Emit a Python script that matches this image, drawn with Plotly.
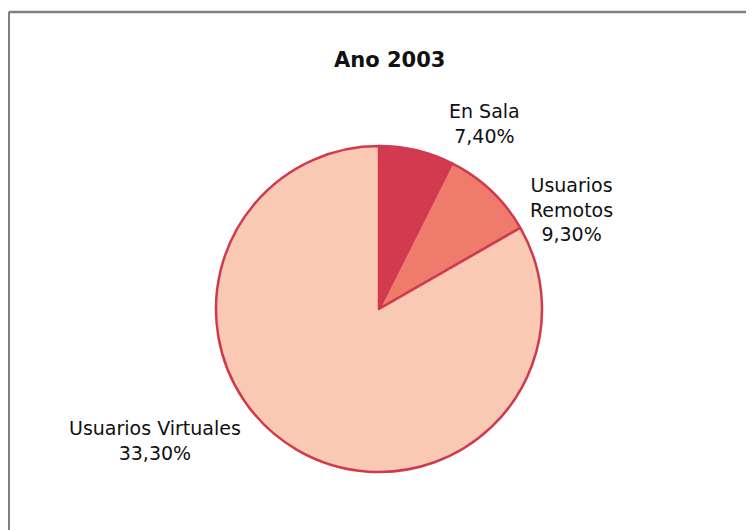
import plotly.graph_objects as go

categories = ["En Sala", "Usuarios Remotos", "Usuarios Virtuales"]
# slice shares as drawn in the picture (percent of the full circle)
slice_shares = [7.40, 9.30, 83.30]
# values printed on the labels
value_labels = ["7,40%", "9,30%", "33,30%"]
label_names = ["En Sala", "Usuarios<br>Remotos", "Usuarios Virtuales"]
colors = ["#D3394F", "#EE7B6B", "#F9C9B3"]

W, H = 754, 530
OFF = 8  # page body margin offset
cx, cy, r = 379 - OFF, 309 - OFF, 163

fig = go.Figure(go.Pie(
    labels=categories, values=slice_shares, sort=False, direction="clockwise", rotation=0,
    marker=dict(colors=colors, line=dict(color="#D03A4E", width=2.5)),
    textinfo="none", hoverinfo="label", showlegend=False,
    domain=dict(x=[(cx - r) / W, (cx + r) / W], y=[(H - cy - r) / H, (H - cy + r) / H]),
))

label_pos = [(485, 123), (571, 209), (155, 440)]
annotations = []
for name, val, (x, y) in zip(label_names, value_labels, label_pos):
    annotations.append(dict(x=(x - OFF) / W, y=1 - (y - OFF) / H, xref="paper", yref="paper",
                            text=f"{name}<br>{val}",
                            showarrow=False, xanchor="center", yanchor="middle", align="center",
                            font=dict(family="DejaVu Sans", size=19, color="#111111")))
annotations.append(dict(x=(390 - OFF) / W, y=1 - (60 - OFF) / H, xref="paper", yref="paper",
                        text="<b>Ano 2003</b>",
                        showarrow=False, xanchor="center", yanchor="middle",
                        font=dict(family="DejaVu Sans", size=21, color="#111111")))

fig.update_layout(
    width=W, height=H, margin=dict(l=0, r=0, t=0, b=0),
    paper_bgcolor="white", plot_bgcolor="white",
    annotations=annotations,
    shapes=[
        dict(type="line", xref="paper", yref="paper", x0=(8 - OFF) / W + 0.001, x1=1.01,
             y0=1 - (12 - OFF) / H, y1=1 - (12 - OFF) / H,
             line=dict(color="#808080", width=2.5)),
        dict(type="line", xref="paper", yref="paper", x0=(8 - OFF) / W + 0.001, x1=(8 - OFF) / W + 0.001,
             y0=1 - (12 - OFF) / H, y1=-0.01,
             line=dict(color="#808080", width=2.5)),
    ],
)
fig.write_html("out.html")
